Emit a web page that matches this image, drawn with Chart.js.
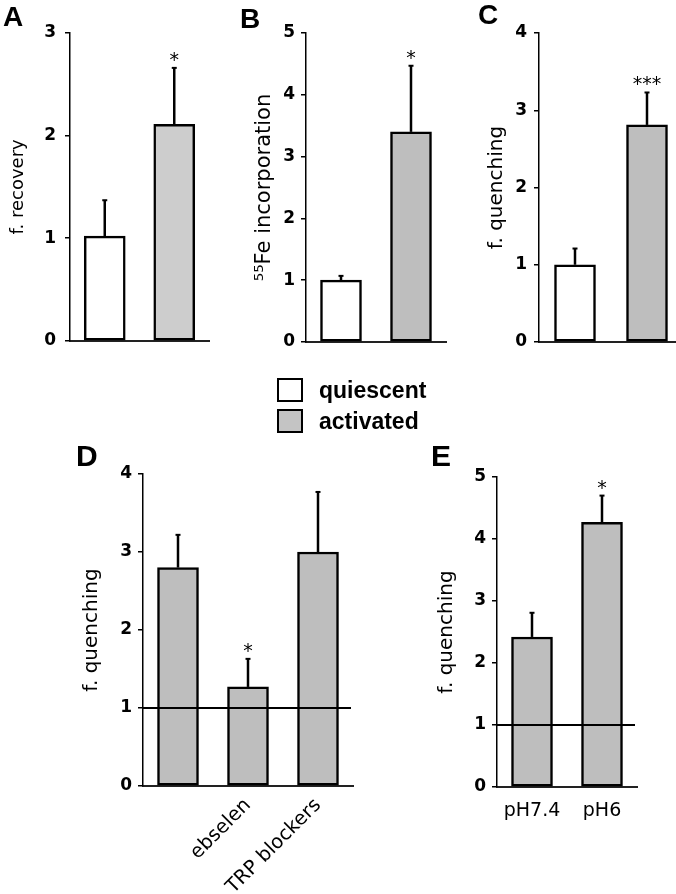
<!DOCTYPE html>
<html>
<head>
<meta charset="utf-8">
<script src="https://cdn.jsdelivr.net/npm/chart.js@4.4.1/dist/chart.umd.min.js"></script>
<style>
  body { margin: 0; width: 676px; height: 894px; position: relative; background: #fff; overflow: hidden; }
  canvas { position: absolute; }
  .letter { position: absolute; font: bold 28px "Liberation Sans", Arial, sans-serif; line-height: 28px; color: #000; }
  .box { position: absolute; width: 26px; height: 24px; border: 2px solid #000; box-sizing: border-box; }
  .legtext { position: absolute; font: bold 23px "Liberation Sans", Arial, sans-serif; line-height: 24px; color: #000; }
</style>
</head>
<body>
<canvas id="chartA"></canvas>
<canvas id="chartB"></canvas>
<canvas id="chartC"></canvas>
<canvas id="chartD"></canvas>
<canvas id="chartE"></canvas>

<div class="letter" style="left:3px; top:3px;">A</div>
<div class="letter" style="left:240px; top:5px;">B</div>
<div class="letter" style="left:478px; top:1px;">C</div>
<div class="letter" style="left:76px; top:441px; font-size:30px; line-height:30px;">D</div>
<div class="letter" style="left:431px; top:441px; font-size:30px; line-height:30px;">E</div>

<div class="box" style="left:277px; top:378px; background:#fff;"></div>
<div class="box" style="left:277px; top:409px; background:#c4c4c4;"></div>
<div class="legtext" style="left:319px; top:378px;">quiescent</div>
<div class="legtext" style="left:319px; top:409px;">activated</div>

<script>
// data
const groups = ['quiescent', 'activated'];

const valuesA = [1.02, 2.11];
const errorsA = [0.35, 0.55];
const starsA = ['', '*'];

const valuesB = [1.0, 3.40];
const errorsB = [0.07, 1.07];
const starsB = ['', '*'];

const valuesC = [1.0, 2.81];
const errorsC = [0.21, 0.42];
const starsC = ['', '***'];

const labelsD = ['', 'ebselen', 'TRP blockers'];
const valuesD = [2.80, 1.27, 3.00];
const errorsD = [0.42, 0.36, 0.77];
const starsD = ['', '*', ''];

const labelsE = ['pH7.4', 'pH6'];
const valuesE = [2.42, 4.27];
const errorsE = [0.39, 0.43];
const starsE = ['', '*'];

const referenceLevel = 1;

Chart.defaults.font.family = '"DejaVu Sans", Verdana, sans-serif';
Chart.defaults.color = '#000';

// draws the upper error bars, the significance stars and the optional reference line
const errorBars = {
    id: 'errorBars',
    afterDatasetsDraw(chart, args, opts) {
        const ctx = chart.ctx;
        const yScale = chart.scales.y;
        const area = chart.chartArea;
        const ds = chart.data.datasets[0];
        const meta = chart.getDatasetMeta(0);
        ctx.save();
        ctx.strokeStyle = '#000';
        ctx.fillStyle = '#000';
        if (opts.refLine != null) {
            const ry = yScale.getPixelForValue(opts.refLine);
            ctx.lineWidth = 2;
            ctx.beginPath();
            ctx.moveTo(area.left, ry);
            ctx.lineTo(area.right - 2, ry);
            ctx.stroke();
        }
        meta.data.forEach(function(bar, i) {
            const top = yScale.getPixelForValue(ds.data[i] + opts.errors[i]);
            ctx.lineWidth = 2.5;
            ctx.beginPath();
            ctx.moveTo(bar.x, bar.y);
            ctx.lineTo(bar.x, top);
            ctx.stroke();
            ctx.lineWidth = 2;
            ctx.beginPath();
            ctx.moveTo(bar.x - 2.5, top);
            ctx.lineTo(bar.x + 2.5, top);
            ctx.stroke();
            if (opts.stars[i]) {
                ctx.font = '19px "DejaVu Sans", sans-serif';
                ctx.textAlign = 'center';
                ctx.textBaseline = 'alphabetic';
                ctx.fillText(opts.stars[i], bar.x, top - 2);
            }
        });
        ctx.restore();
    }
};

function makePanel(id, cfg) {
    const canvas = document.getElementById(id);
    canvas.width = cfg.w;
    canvas.height = cfg.h;
    canvas.style.left = cfg.left + 'px';
    canvas.style.top = cfg.top + 'px';
    return new Chart(canvas, {
        type: 'bar',
        data: {
            labels: cfg.labels,
            datasets: [{
                data: cfg.values,
                backgroundColor: cfg.colors,
                borderColor: '#000',
                borderWidth: 2.5,
                borderSkipped: false,
                barThickness: 41
            }]
        },
        options: {
            responsive: false,
            animation: false,
            devicePixelRatio: 1,
            layout: { padding: { top: cfg.padTop, right: cfg.padRight, left: 0, bottom: 0 } },
            plugins: {
                legend: { display: false },
                tooltip: { enabled: false },
                errorBars: { errors: cfg.errors, stars: cfg.stars, refLine: cfg.refLine }
            },
            scales: {
                x: {
                    grid: { display: false },
                    border: { display: true, color: '#222', width: 2 },
                    ticks: {
                        display: cfg.showX,
                        autoSkip: false,
                        minRotation: cfg.rotate,
                        maxRotation: cfg.rotate,
                        padding: cfg.xPad,
                        font: { size: cfg.xSize }
                    },
                    afterFit: function(s) { s.height = cfg.xHeight; }
                },
                y: {
                    min: 0,
                    max: cfg.yMax,
                    grid: { drawOnChartArea: false, drawTicks: true, tickLength: 5, color: '#000', lineWidth: 1.5 },
                    border: { display: true, color: '#000', width: 1.5 },
                    ticks: {
                        stepSize: 1,
                        padding: cfg.tickPad,
                        font: { size: 17, weight: 'bold' }
                    },
                    title: {
                        display: true,
                        text: cfg.title,
                        padding: { top: cfg.titlePad, bottom: 0 },
                        font: { size: cfg.titleSize }
                    },
                    afterFit: function(s) { s.width = cfg.yWidth; }
                }
            }
        },
        plugins: [errorBars]
    });
}

document.addEventListener('DOMContentLoaded', function() {
    makePanel('chartA', {
        labels: groups, values: valuesA, errors: errorsA, stars: starsA, refLine: null,
        colors: ['#ffffff', '#cdcdcd'], yMax: 3, title: 'f. recovery', titleSize: 18,
        left: 0, top: 0, w: 220, h: 360, padTop: 33, padRight: 11, yWidth: 70, xHeight: 19,
        titlePad: 8, tickPad: 9, showX: false, rotate: 0, xPad: 3, xSize: 19
    });
    makePanel('chartB', {
        labels: groups, values: valuesB, errors: errorsB, stars: starsB, refLine: null,
        colors: ['#ffffff', '#bebebe'], yMax: 5, title: '\u2075\u2075Fe incorporation', titleSize: 21,
        left: 220, top: 0, w: 230, h: 360, padTop: 33, padRight: 4, yWidth: 86, xHeight: 18,
        titlePad: 32, tickPad: 6, showX: false, rotate: 0, xPad: 3, xSize: 19
    });
    makePanel('chartC', {
        labels: groups, values: valuesC, errors: errorsC, stars: starsC, refLine: null,
        colors: ['#ffffff', '#bebebe'], yMax: 4, title: 'f. quenching', titleSize: 20,
        left: 450, top: 0, w: 240, h: 360, padTop: 33, padRight: 7, yWidth: 89, xHeight: 18,
        titlePad: 35, tickPad: 7, showX: false, rotate: 0, xPad: 3, xSize: 19
    });
    makePanel('chartD', {
        labels: labelsD, values: valuesD, errors: errorsD, stars: starsD, refLine: referenceLevel,
        colors: '#bebebe', yMax: 4, title: 'f. quenching', titleSize: 20,
        left: 0, top: 440, w: 370, h: 454, padTop: 34, padRight: 17, yWidth: 143, xHeight: 108,
        titlePad: 80, tickPad: 6, showX: true, rotate: 45, xPad: 0, xSize: 19.5
    });
    makePanel('chartE', {
        labels: labelsE, values: valuesE, errors: errorsE, stars: starsE, refLine: referenceLevel,
        colors: '#bebebe', yMax: 5, title: 'f. quenching', titleSize: 20,
        left: 370, top: 440, w: 306, h: 454, padTop: 37, padRight: 39, yWidth: 127, xHeight: 107,
        titlePad: 65, tickPad: 6, showX: true, rotate: 0, xPad: 5, xSize: 19
    });
});
</script>
</body>
</html>
